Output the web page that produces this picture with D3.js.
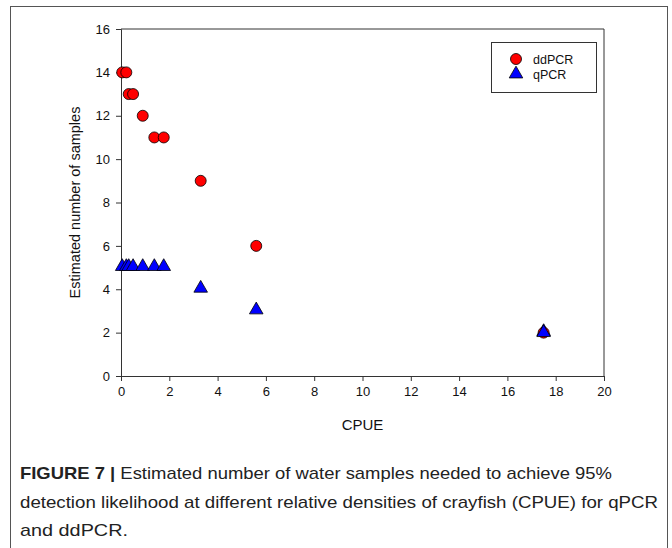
<!DOCTYPE html>
<html>
<head>
<meta charset="utf-8">
<script src="https://cdn.jsdelivr.net/npm/d3@7"></script>
<style>
	body { margin: 0; background: #fff; }
	svg { display: block; }
</style>
</head>
<body>
<div id="chart"></div>
<script>
var cpue = [0.05, 0.22, 0.32, 0.5, 0.9, 1.38, 1.77, 3.3, 5.6, 17.5];
var ddpcr = [14, 14, 13, 13, 12, 11, 11, 9, 6, 2];
var qpcr = [5, 5, 5, 5, 5, 5, 5, 4, 3, 2];
var xTicks = [0, 2, 4, 6, 8, 10, 12, 14, 16, 18, 20];
var yTicks = [0, 2, 4, 6, 8, 10, 12, 14, 16];
var seriesNames = ["ddPCR", "qPCR"];

var width = 672,
	height = 548;
var margin = { left: 121, right: 68, top: 29, bottom: 172 };
var font = "'Liberation Sans', Arial, Helvetica, sans-serif";

var svg = d3
	.select("#chart")
	.append("svg")
	.attr("width", width)
	.attr("height", height);

// figure frame
svg
	.append("rect")
	.attr("x", 10.5)
	.attr("y", 6.5)
	.attr("width", 657)
	.attr("height", 560)
	.attr("fill", "none")
	.attr("stroke", "#555")
	.attr("stroke-width", 1);

var x = d3
	.scaleLinear()
	.domain([0, 20])
	.range([margin.left, width - margin.right]);
var y = d3
	.scaleLinear()
	.domain([0, 16])
	.range([height - margin.bottom, margin.top]);

// top and right edges of the plot box
svg
	.append("path")
	.attr("d", "M" + x(0) + "," + y(16) + "H" + x(20) + "V" + y(0))
	.attr("fill", "none")
	.attr("stroke", "#333");

var xAxis = svg
	.append("g")
	.attr("transform", "translate(0," + y(0) + ")")
	.call(d3.axisBottom(x).tickValues(xTicks).tickSize(5).tickPadding(6));
var yAxis = svg
	.append("g")
	.attr("transform", "translate(" + x(0) + ",0)")
	.call(d3.axisLeft(y).tickValues(yTicks).tickSize(5).tickPadding(6));

[xAxis, yAxis].forEach(function (g) {
	g.selectAll("path, line").attr("stroke", "#333");
	g.selectAll("text")
		.style("font-family", font)
		.style("font-size", "13px")
		.attr("fill", "#111");
});

svg
	.append("text")
	.attr("x", (x(0) + x(20)) / 2)
	.attr("y", 430)
	.attr("text-anchor", "middle")
	.style("font-family", font)
	.style("font-size", "15px")
	.attr("fill", "#111")
	.text("CPUE");

svg
	.append("text")
	.attr("transform", "translate(80," + (y(0) + y(16)) / 2 + ") rotate(-90)")
	.attr("text-anchor", "middle")
	.style("font-family", font)
	.style("font-size", "14.5px")
	.attr("fill", "#111")
	.text("Estimated number of samples");

var tri = d3.symbol().type(d3.symbolTriangle).size(80);

// qPCR triangles drawn first, ddPCR circles on top
svg
	.append("g")
	.selectAll("path")
	.data(cpue)
	.enter()
	.append("path")
	.attr("d", tri)
	.attr("transform", function (d, i) {
		return "translate(" + x(d) + "," + (y(qpcr[i]) - 1) + ")";
	})
	.attr("fill", "#0000ff")
	.attr("stroke", "#000")
	.attr("stroke-width", 0.8);

svg
	.append("g")
	.selectAll("circle")
	.data(cpue)
	.enter()
	.append("circle")
	.attr("cx", function (d) {
		return x(d);
	})
	.attr("cy", function (d, i) {
		return y(ddpcr[i]);
	})
	.attr("r", 5.5)
	.attr("fill", "#ff0000")
	.attr("stroke", "#000")
	.attr("stroke-width", 0.8);

// the 17.5 triangle sits over the circle in the original
svg
	.append("path")
	.attr("d", tri)
	.attr("transform", "translate(" + x(cpue[9]) + "," + y(qpcr[9]) + ")")
	.attr("fill", "#0000ff")
	.attr("stroke", "#000")
	.attr("stroke-width", 0.8);

// legend
var legend = svg.append("g").attr("transform", "translate(491,42)");
legend
	.append("rect")
	.attr("x", 0.5)
	.attr("y", 0.5)
	.attr("width", 105)
	.attr("height", 50)
	.attr("fill", "#fff")
	.attr("stroke", "#333");
legend
	.append("circle")
	.attr("cx", 25)
	.attr("cy", 17)
	.attr("r", 5.5)
	.attr("fill", "#ff0000")
	.attr("stroke", "#000")
	.attr("stroke-width", 0.8);
legend
	.append("path")
	.attr("d", tri)
	.attr("transform", "translate(25,32)")
	.attr("fill", "#0000ff")
	.attr("stroke", "#000")
	.attr("stroke-width", 0.8);
legend
	.selectAll("text")
	.data(seriesNames)
	.enter()
	.append("text")
	.attr("x", 42)
	.attr("y", function (d, i) {
		return 21.5 + i * 15;
	})
	.style("font-family", font)
	.style("font-size", "12.5px")
	.attr("fill", "#111")
	.text(function (d) {
		return d;
	});

// caption
var cap = svg
	.append("g")
	.style("font-family", font)
	.style("font-size", "17px")
	.attr("fill", "#222");
var line1 = cap
	.append("text")
	.attr("x", 20)
	.attr("y", 479)
	.attr("textLength", 592)
	.attr("lengthAdjust", "spacingAndGlyphs");
line1.append("tspan").style("font-weight", "bold").text("FIGURE 7 | ");
line1
	.append("tspan")
	.text("Estimated number of water samples needed to achieve 95%");
cap
	.append("text")
	.attr("x", 20)
	.attr("y", 508)
	.attr("textLength", 638)
	.attr("lengthAdjust", "spacingAndGlyphs")
	.text("detection likelihood at different relative densities of crayfish (CPUE) for qPCR");
cap
	.append("text")
	.attr("x", 20)
	.attr("y", 536)
	.attr("textLength", 108)
	.attr("lengthAdjust", "spacingAndGlyphs")
	.text("and ddPCR.");
</script>
</body>
</html>
